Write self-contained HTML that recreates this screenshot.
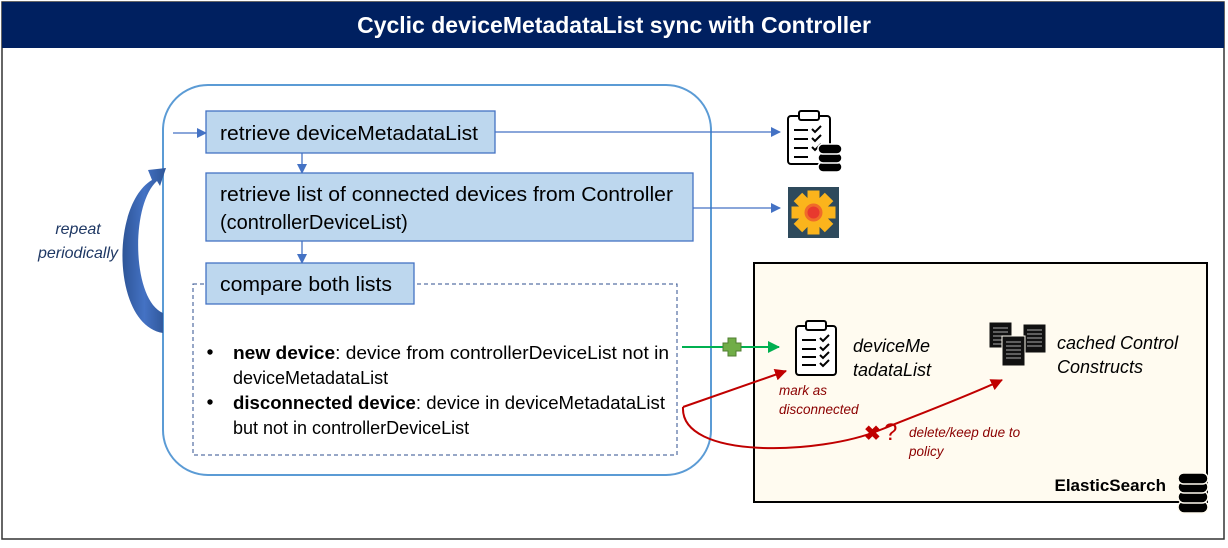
<!DOCTYPE html>
<html><head><meta charset="utf-8"><style>
body{margin:0;width:1228px;height:543px;background:#fff;overflow:hidden;font-family:"Liberation Sans",sans-serif}
</style></head><body>
<svg width="1228" height="543" xmlns="http://www.w3.org/2000/svg" font-family="Liberation Sans, sans-serif">
<defs>
<marker id="ab" markerWidth="10" markerHeight="10" refX="9" refY="5" orient="auto" markerUnits="userSpaceOnUse"><path d="M0,0 L10,5 L0,10z" fill="#4472c4"/></marker>
<marker id="ag" markerWidth="12" markerHeight="12" refX="11" refY="6" orient="auto" markerUnits="userSpaceOnUse"><path d="M0,0 L12,6 L0,12z" fill="#00b050"/></marker>
<marker id="ar" markerWidth="12" markerHeight="12" refX="11" refY="6" orient="auto" markerUnits="userSpaceOnUse"><path d="M0,0 L12,6 L0,12z" fill="#c00000"/></marker>
<linearGradient id="cg" x1="0" x2="1"><stop offset="0" stop-color="#2e5597"/><stop offset="0.5" stop-color="#4472c4"/><stop offset="1" stop-color="#2e5597"/></linearGradient>
</defs>
<rect x="2" y="2" width="1222" height="537" fill="#fff" stroke="#333" stroke-width="1.5"/>
<rect x="2" y="2" width="1222" height="46" fill="#002060"/>
<text x="614" y="33" text-anchor="middle" fill="#fff" font-size="23" font-weight="bold">Cyclic deviceMetadataList sync with Controller</text>

<rect x="163" y="85" width="548" height="390" rx="45" fill="#fff" stroke="#5b9bd5" stroke-width="2"/>

<!-- repeat arrow -->
<path d="M163,333 C112,325 110,205 152,180 L148,170 L166,168 L160,186 L157,181 C130,205 132,300 163,313 Z" fill="url(#cg)"/>
<text x="78" y="234" text-anchor="middle" fill="#1f3864" font-size="16" font-style="italic">repeat</text>
<text x="78" y="258" text-anchor="middle" fill="#1f3864" font-size="16" font-style="italic">periodically</text>

<line x1="173" y1="133" x2="206" y2="133" stroke="#4472c4" stroke-width="1.3" marker-end="url(#ab)"/>
<rect x="206" y="111" width="289" height="42" fill="#bdd7ee" stroke="#4472c4" stroke-width="1.3"/>
<text x="220" y="140" font-size="20" fill="#000" textLength="258" lengthAdjust="spacingAndGlyphs">retrieve deviceMetadataList</text>
<line x1="495" y1="132" x2="780" y2="132" stroke="#4472c4" stroke-width="1.3" marker-end="url(#ab)"/>
<line x1="302" y1="153" x2="302" y2="173" stroke="#4472c4" stroke-width="1.3" marker-end="url(#ab)"/>

<rect x="206" y="173" width="487" height="68" fill="#bdd7ee" stroke="#4472c4" stroke-width="1.3"/>
<text x="220" y="201" font-size="20" textLength="453" lengthAdjust="spacingAndGlyphs">retrieve list of connected devices from Controller</text>
<text x="220" y="229" font-size="20">(controllerDeviceList)</text>
<line x1="693" y1="208" x2="780" y2="208" stroke="#4472c4" stroke-width="1.3" marker-end="url(#ab)"/>
<line x1="302" y1="241" x2="302" y2="263" stroke="#4472c4" stroke-width="1.3" marker-end="url(#ab)"/>

<rect x="193" y="284" width="484" height="171" fill="none" stroke="#2f4f8f" stroke-width="1" stroke-dasharray="4,3"/>
<rect x="206" y="263" width="208" height="41" fill="#bdd7ee" stroke="#4472c4" stroke-width="1.3"/>
<text x="220" y="291" font-size="20" textLength="172" lengthAdjust="spacingAndGlyphs">compare both lists</text>

<g font-size="18">
<circle cx="210" cy="352" r="2.7"/>
<text x="233" y="359" textLength="436" lengthAdjust="spacingAndGlyphs"><tspan font-weight="bold">new device</tspan>: device from controllerDeviceList not in</text>
<text x="233" y="384">deviceMetadataList</text>
<circle cx="210" cy="402" r="2.7"/>
<text x="233" y="409" textLength="432" lengthAdjust="spacingAndGlyphs"><tspan font-weight="bold">disconnected device</tspan>: device in deviceMetadataList</text>
<text x="233" y="434">but not in controllerDeviceList</text>
</g>

<!-- clipboard + db icon -->
<g transform="translate(786,110)" stroke="#000" fill="none" stroke-width="2">
<rect x="2" y="6" width="42" height="48" rx="3" fill="#fff"/>
<rect x="13" y="1" width="20" height="9" rx="2" fill="#fff"/>
<line x1="8" y1="20" x2="22" y2="20"/><line x1="8" y1="29" x2="22" y2="29"/><line x1="8" y1="38" x2="22" y2="38"/><line x1="8" y1="47" x2="22" y2="47"/>
<path d="M26,19 l3,3 l6,-6 M26,28 l3,3 l6,-6 M26,37 l3,3 l6,-6"/>
</g>
<g transform="translate(818,142)" fill="#000" stroke="#fff" stroke-width="1.5">
<rect x="0" y="20" width="24" height="10" rx="5"/><rect x="0" y="11" width="24" height="10" rx="5"/><rect x="0" y="2" width="24" height="10" rx="5"/>
</g>
<!-- controller icon -->
<rect x="788" y="187" width="51" height="51" fill="#2e4a5c"/>
<g transform="translate(813.5,212.5)" fill="#fbb41c">
<rect x="-6" y="-22" width="12" height="44"/>
<rect x="-6" y="-22" width="12" height="44" transform="rotate(45)"/>
<rect x="-6" y="-22" width="12" height="44" transform="rotate(90)"/>
<rect x="-6" y="-22" width="12" height="44" transform="rotate(135)"/>
<circle r="9" fill="#f06a2a"/><circle r="6" fill="#e8392e"/>
</g>

<!-- ElasticSearch box -->
<rect x="754" y="263" width="453" height="239" fill="#fffbf0" stroke="#000" stroke-width="2"/>
<text x="1166" y="491" text-anchor="end" font-size="17" font-weight="bold">ElasticSearch</text>
<g transform="translate(1178,473)" fill="#000" stroke="#fffbf0" stroke-width="1.5">
<rect x="0" y="28" width="30" height="12" rx="6"/><rect x="0" y="18" width="30" height="12" rx="6"/><rect x="0" y="8" width="30" height="12" rx="6"/><rect x="0" y="0" width="30" height="11" rx="5.5"/>
</g>

<g transform="translate(795,320)" stroke="#000" fill="none" stroke-width="2">
<rect x="1" y="6" width="40" height="49" rx="3" fill="#fff"/>
<rect x="11" y="1" width="20" height="9" rx="2" fill="#fff"/>
<line x1="7" y1="20" x2="21" y2="20"/><line x1="7" y1="29" x2="21" y2="29"/><line x1="7" y1="37" x2="21" y2="37"/><line x1="7" y1="45" x2="21" y2="45"/>
<path d="M25,18 l3,3 l6,-6 M25,27 l3,3 l6,-6 M25,35 l3,3 l6,-6 M25,43 l3,3 l6,-6"/>
</g>
<g font-size="18" font-style="italic">
<text x="853" y="352">deviceMe</text>
<text x="853" y="376">tadataList</text>
<text x="1057" y="349">cached Control</text>
<text x="1057" y="373">Constructs</text>
</g>
<g stroke="#fffbf0" stroke-width="1">
<g transform="translate(989,322)"><rect width="23" height="26" fill="#111"/><path d="M4,6h15M4,10h15M4,14h15M4,18h15M4,22h15" stroke="#aaa"/></g>
<g transform="translate(1023,324)"><rect width="23" height="29" fill="#111"/><path d="M4,6h15M4,10h15M4,14h15M4,18h15M4,22h15" stroke="#aaa"/></g>
<g transform="translate(1002,336)"><rect width="23" height="30" fill="#111"/><path d="M4,6h15M4,10h15M4,14h15M4,18h15M4,22h15" stroke="#aaa"/></g>
</g>

<!-- green arrow -->
<line x1="682" y1="347" x2="779" y2="347" stroke="#00b050" stroke-width="2" marker-end="url(#ag)"/>
<path d="M728,338 h8 v5 h5 v8 h-5 v5 h-8 v-5 h-5 v-8 h5z" fill="#70ad47" stroke="#507e32" stroke-width="1"/>

<!-- red arrows -->
<path d="M683,407 L786,371" stroke="#c00000" stroke-width="2" fill="none" marker-end="url(#ar)"/>
<path d="M683,407 C680,460 820,455 880,430 C930,410 970,395 1002,380" stroke="#c00000" stroke-width="2" fill="none" marker-end="url(#ar)"/>
<text x="864" y="440" font-size="20" font-weight="bold" fill="#c00000">✖</text>
<text x="884" y="440" font-size="24" fill="#c00000">?</text>
<g font-size="13.5" font-style="italic" fill="#8b0000">
<text x="779" y="395">mark as</text>
<text x="779" y="414">disconnected</text>
<text x="909" y="437">delete/keep due to</text>
<text x="909" y="456">policy</text>
</g>
</svg>
</body></html>
